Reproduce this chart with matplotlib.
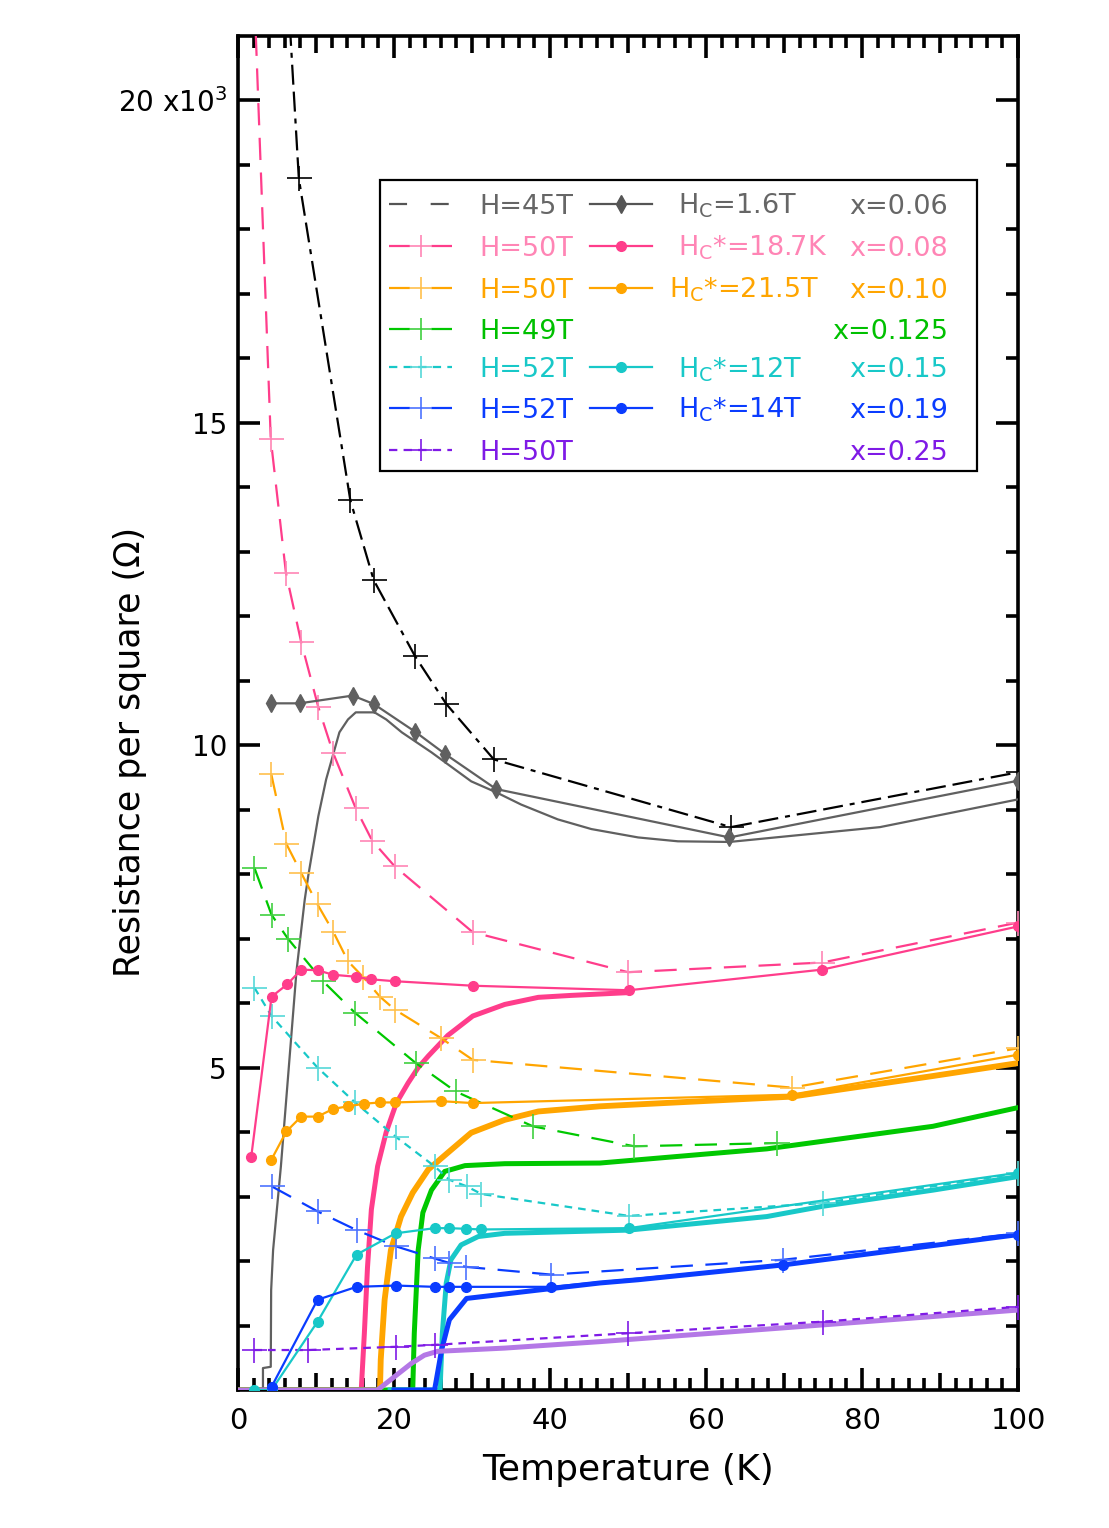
import numpy as np
import matplotlib
matplotlib.use('Agg')
import matplotlib.pyplot as plt
from matplotlib.ticker import FixedLocator
from matplotlib.patches import Rectangle

plt.rcParams['lines.scale_dashes'] = False

# ---------------- data (R in units of 10^3 ohm) ----------------
# x = 0.06
T45 = [6.0, 7.8, 14.4, 17.4, 22.7, 26.7, 32.8, 63.2, 100]
R45 = [22.5, 18.79, 13.80, 12.56, 11.38, 10.64, 9.78, 8.73, 9.58]
T06_hc = [4.27, 7.9, 14.7, 17.4, 22.7, 26.6, 33.1, 63.0, 100]
R06_hc = [10.65, 10.65, 10.77, 10.64, 10.21, 9.86, 9.32, 8.57, 9.45]
T06_0 = [3.2, 3.2, 4.2, 4.25, 4.5, 5.5, 7.5, 8.55, 9.0, 10.3, 11.3, 13.0, 14.1, 15.1,
         17.5, 19.0, 21.0, 24.8, 29.9, 33.1, 36.3, 41.0, 45.3, 51.3, 56.4, 63.0, 82.3, 100]
R06_0 = [0.0, 0.34, 0.36, 1.55, 2.17, 3.47, 6.5, 7.6, 7.97, 8.9, 9.47, 10.2, 10.4, 10.51,
         10.51, 10.4, 10.2, 9.89, 9.44, 9.27, 9.08, 8.85, 8.70, 8.57, 8.51, 8.50, 8.73, 9.16]

# x = 0.08
T08_h = [1.8, 4.2, 6.15, 8.1, 10.3, 12.2, 15.1, 17.2, 20.1, 30.1, 50.0, 74.9, 100]
R08_h = [22.6, 14.75, 12.67, 11.6, 10.59, 9.88, 9.02, 8.52, 8.12, 7.10, 6.48, 6.63, 7.25]
T08_hc = [1.7, 4.3, 6.3, 8.1, 10.2, 12.2, 15.1, 17.0, 20.1, 30.1, 50.1, 74.9, 100]
R08_hc = [3.62, 6.10, 6.29, 6.52, 6.51, 6.44, 6.41, 6.37, 6.34, 6.27, 6.20, 6.52, 7.19]
T08_0 = [0, 15.8, 16.2, 16.6, 17.1, 17.9, 19.0, 20.3, 21.8, 23.1, 24.4, 26.9, 30.1, 34.2, 38.5, 42.7, 49.5]
R08_0 = [0, 0, 0.88, 1.9, 2.8, 3.47, 4.0, 4.45, 4.76, 5.0, 5.18, 5.5, 5.80, 5.98, 6.09, 6.12, 6.16]

# x = 0.10
T10_h = [4.27, 6.2, 8.1, 10.2, 12.2, 14.1, 16.0, 18.2, 20.1, 26.0, 30.1, 71.0, 100]
R10_h = [9.55, 8.47, 8.02, 7.53, 7.11, 6.65, 6.41, 6.10, 5.90, 5.46, 5.12, 4.69, 5.30]
T10_hc = [4.27, 6.2, 8.1, 10.2, 12.2, 14.1, 16.2, 18.2, 20.1, 26.0, 30.1, 71.0, 100]
R10_hc = [3.57, 4.01, 4.24, 4.24, 4.36, 4.40, 4.44, 4.46, 4.46, 4.48, 4.45, 4.58, 5.20]
T10_0 = [0, 18.2, 18.3, 18.8, 19.6, 20.9, 22.4, 24.4, 26.9, 29.9, 34.2, 38.5, 46.4, 51.3, 71.0, 89.1, 100]
R10_0 = [0, 0, 0.47, 1.4, 2.17, 2.69, 3.06, 3.42, 3.68, 3.99, 4.19, 4.32, 4.40, 4.43, 4.55, 4.87, 5.07]

# x = 0.125
T125_h = [2.1, 4.3, 6.4, 10.9, 15.0, 22.8, 27.9, 37.8, 50.8, 69.1]
R125_h = [8.1, 7.37, 7.0, 6.34, 5.85, 5.07, 4.63, 4.09, 3.78, 3.83]
T125_0 = [0, 22.4, 22.6, 23.1, 23.7, 24.8, 26.5, 29.1, 34.2, 46.4, 67.8, 89.1, 100]
R125_0 = [0, 0, 0.88, 2.17, 2.75, 3.10, 3.39, 3.48, 3.51, 3.52, 3.74, 4.09, 4.38]

# x = 0.15
T15_h = [2.1, 4.3, 10.2, 15.0, 20.2, 25.2, 27.1, 29.3, 31.2, 50.1, 75.0, 100]
R15_h = [6.24, 5.8, 5.0, 4.46, 3.93, 3.47, 3.26, 3.16, 3.04, 2.70, 2.90, 3.36]
T15_hc = [2.1, 4.3, 10.2, 15.2, 20.2, 25.2, 27.1, 29.2, 31.2, 50.1, 100]
R15_hc = [0, 0, 1.06, 2.10, 2.43, 2.51, 2.51, 2.50, 2.49, 2.51, 3.37]
T15_0 = [19.5, 25.9, 26.2, 26.7, 27.3, 28.6, 30.8, 34.2, 50.1, 67.8, 75.0, 89.1, 100]
R15_0 = [0, 0, 0.88, 1.66, 2.02, 2.25, 2.38, 2.43, 2.48, 2.69, 2.85, 3.10, 3.31]

# x = 0.19
T19_h = [4.3, 10.2, 15.2, 20.2, 25.2, 27.1, 29.2, 40.1, 69.9, 100]
R19_h = [3.16, 2.77, 2.48, 2.23, 2.04, 1.97, 1.91, 1.79, 2.02, 2.43]
T19_hc = [4.3, 10.2, 15.2, 20.2, 25.2, 27.1, 29.2, 40.1, 69.9, 100]
R19_hc = [0.05, 1.40, 1.60, 1.62, 1.60, 1.60, 1.60, 1.60, 1.94, 2.41]
T19_0 = [20.0, 25.2, 26.1, 27.1, 29.3, 38.5, 46.4, 51.3, 69.9, 100]
R19_0 = [0, 0, 0.62, 1.09, 1.42, 1.55, 1.66, 1.71, 1.94, 2.41]

# x = 0.25
T25_h = [2.1, 9.0, 20.2, 25.2, 50.0, 75.0, 100]
R25_h = [0.62, 0.62, 0.67, 0.70, 0.88, 1.06, 1.29]
T25_0 = [0, 17.9, 20.1, 22.2, 23.9, 25.6, 34.2, 46.4, 75.0, 100]
R25_0 = [0, 0, 0.21, 0.41, 0.54, 0.60, 0.65, 0.75, 1.01, 1.24]

xticks = [0, 20, 40, 60, 80, 100]
yticks = [5, 10, 15, 20]
ytick_labels = ['5', '10', '15', '20 x10$^{3}$']

# ---------------- styles ----------------
GRAY = '#606060'
PINK = '#ff3d8b'; PINK_L = '#ff85b5'
ORANGE = '#ffa500'; ORANGE_L = '#ffc04d'
GREEN = '#00c800'; GREEN_L = '#40d040'
CYAN = '#18c8c8'; CYAN_L = '#55d8d8'
BLUE = '#0a3cff'; BLUE_L = '#4d73ff'
PURPLE = '#7f1ae6'
LAVENDER = '#b478e6'

LONG = (16, 9)
SHORT = (5.5, 4.3)
PLUS = dict(marker='+', markersize=18, markeredgewidth=1.2)
DOT = dict(marker='o', markersize=7)

fig = plt.figure(figsize=(11.09, 15.28), dpi=100)
ax = fig.add_axes([238/1109, 1-1390/1528, 780/1109, 1354/1528])

# zero-field thick curves
ax.plot(T08_0, R08_0, color=PINK, lw=3.6, zorder=3)
ax.plot(T10_0, R10_0, color=ORANGE, lw=4.2, zorder=3)
ax.plot(T125_0, R125_0, color=GREEN, lw=3.6, zorder=3)
ax.plot(T15_0, R15_0, color=CYAN, lw=3.6, zorder=3)
ax.plot(T19_0, R19_0, color=BLUE, lw=3.6, zorder=3)
ax.plot(T25_0, R25_0, color=LAVENDER, lw=3.6, zorder=3.5)
ax.plot(T06_0, R06_0, color=GRAY, lw=1.6, zorder=3)

# high-field dashed curves with + markers
ax.plot(T45, R45, color='black', lw=1.6, dashes=(14.4, 5, 14.4, 5, 3.6, 5),
        mec='black', zorder=4, **PLUS)
ax.plot(T08_h, R08_h, color=PINK, lw=1.6, dashes=LONG, mec=PINK_L, zorder=4, **PLUS)
ax.plot(T10_h, R10_h, color=ORANGE, lw=1.6, dashes=LONG, mec=ORANGE_L, zorder=4, **PLUS)
ax.plot(T125_h, R125_h, color=GREEN, lw=1.6, dashes=LONG, mec=GREEN_L, zorder=4, **PLUS)
ax.plot(T15_h, R15_h, color=CYAN, lw=1.6, dashes=SHORT, mec=CYAN_L, zorder=4, **PLUS)
ax.plot(T19_h, R19_h, color=BLUE, lw=1.6, dashes=LONG, mec=BLUE_L, zorder=4, **PLUS)
ax.plot(T25_h, R25_h, color=PURPLE, lw=1.6, dashes=SHORT, mec=PURPLE, zorder=4, **PLUS)

# Hc* curves with dots
ax.plot(T06_hc, R06_hc, color=GRAY, lw=1.6, marker='d', markersize=9,
        mfc=GRAY, mec=GRAY, zorder=4)
ax.plot(T08_hc, R08_hc, color=PINK, lw=1.6, mfc=PINK, mec=PINK, zorder=4, **DOT)
ax.plot(T10_hc, R10_hc, color=ORANGE, lw=1.6, mfc=ORANGE, mec=ORANGE, zorder=4, **DOT)
ax.plot(T15_hc, R15_hc, color=CYAN, lw=1.6, mfc=CYAN, mec=CYAN, zorder=4, **DOT)
ax.plot(T19_hc, R19_hc, color=BLUE, lw=1.6, mfc=BLUE, mec=BLUE, zorder=4, **DOT)

# ---------------- axes ----------------
ax.set_xlim(0, 100)
ax.set_ylim(0, 21)
for s in ax.spines.values():
    s.set_linewidth(2.6)
    s.set_zorder(2.5)
ax.set_xticks(xticks)
ax.set_xticklabels([str(t) for t in xticks])
minor_x = [t for t in range(2, 100, 2) if t % 20]
ax.xaxis.set_minor_locator(FixedLocator(minor_x))
ax.set_yticks(yticks)
ax.set_yticklabels(ytick_labels)
minor_y = [v for v in range(1, 21) if v % 5]
ax.yaxis.set_minor_locator(FixedLocator(minor_y))
ax.tick_params(which='both', direction='in', top=True, right=True, width=2.6)
ax.tick_params(which='major', length=16)
ax.tick_params(which='minor', length=8.5)
ax.tick_params(axis='x', which='major', labelsize=21, pad=12)
ax.tick_params(axis='y', which='major', labelsize=20, pad=8)
for tick, loc in zip(ax.xaxis.get_minor_ticks(len(minor_x)), minor_x):
    if loc % 10 == 0:
        tick.tick1line.set_markersize(12)
        tick.tick2line.set_markersize(12)

ax.text(0.5, -0.059, 'Temperature (K)', transform=ax.transAxes, ha='center',
        va='center', fontsize=26)
ax.text(-0.138, 0.471, 'Resistance per square (\u03a9)', transform=ax.transAxes,
        ha='center', va='center', rotation=90, fontsize=25)

# ---------------- legend ----------------
def af(px, py):
    return ((px - 238) / 780, (1390 - py) / 1354)

x0, y0 = af(380, 471)
x1, y1 = af(977, 180)
ax.add_patch(Rectangle((x0, y0), x1 - x0, y1 - y0, transform=ax.transAxes,
                       facecolor='white', edgecolor='black', lw=1.6, zorder=20,
                       clip_on=False))

rows_y = [204, 246, 288, 329, 367, 408, 450]
txtcol = ['#666666', PINK_L, ORANGE, '#00c000', CYAN, BLUE, PURPLE]
hcol = ['#555555', PINK, ORANGE, GREEN, CYAN, BLUE, PURPLE]
pcol = [None, PINK_L, ORANGE_L, GREEN_L, CYAN_L, BLUE_L, PURPLE]
hdash = [(13, 17), (15, 15.5), (15, 15.5), (15, 15.5), (6, 4.5), (15, 15.5), (6, 4.5)]
t1 = ['H=45T', 'H=50T', 'H=50T', 'H=49T', 'H=52T', 'H=52T', 'H=50T']
t2 = [r'H$_\mathregular{C}$=1.6T', r'H$_\mathregular{C}$*=18.7K',
      r'H$_\mathregular{C}$*=21.5T', None, r'H$_\mathregular{C}$*=12T',
      r'H$_\mathregular{C}$*=14T', None]
t2x = [678, 678, 669, None, 678, 678, None]
t3 = ['x=0.06', 'x=0.08', 'x=0.10', 'x=0.125', 'x=0.15', 'x=0.19', 'x=0.25']
m2 = ['d', 'o', 'o', None, 'o', 'o', None]

for i, py in enumerate(rows_y):
    xa, ya = af(389, py)
    xb, _ = af(452, py)
    xm, _ = af(421, py)
    ax.plot([xa, xb], [ya, ya], transform=ax.transAxes, color=hcol[i], lw=1.6,
            dashes=hdash[i], zorder=21, clip_on=False)
    if pcol[i]:
        ax.plot([xm], [ya], transform=ax.transAxes, color=pcol[i], marker='+',
                markersize=16, mew=1.2, zorder=22, clip_on=False)
    if t2[i]:
        xc, _ = af(590, py)
        xd, _ = af(652, py)
        xe, _ = af(621, py)
        ax.plot([xc, xd], [ya, ya], transform=ax.transAxes, color=hcol[i], lw=1.6,
                zorder=21, clip_on=False)
        ax.plot([xe], [ya], transform=ax.transAxes, color=hcol[i], marker=m2[i],
                markersize=7 if m2[i] == 'o' else 9, zorder=22, clip_on=False)
        xt, yb = af(t2x[i], py + 10)
        ax.text(xt, yb, t2[i], transform=ax.transAxes, color=txtcol[i], fontsize=19.5,
                ha='left', va='baseline', zorder=23)
    xt, yb = af(479, py + 10)
    ax.text(xt, yb, t1[i], transform=ax.transAxes, color=txtcol[i], fontsize=19.5,
            ha='left', va='baseline', zorder=23)
    xt, yb = af(948, py + 10)
    ax.text(xt, yb, t3[i], transform=ax.transAxes, color=txtcol[i], fontsize=19.5,
            ha='right', va='baseline', zorder=23)

fig.savefig('out.png', dpi=100)
